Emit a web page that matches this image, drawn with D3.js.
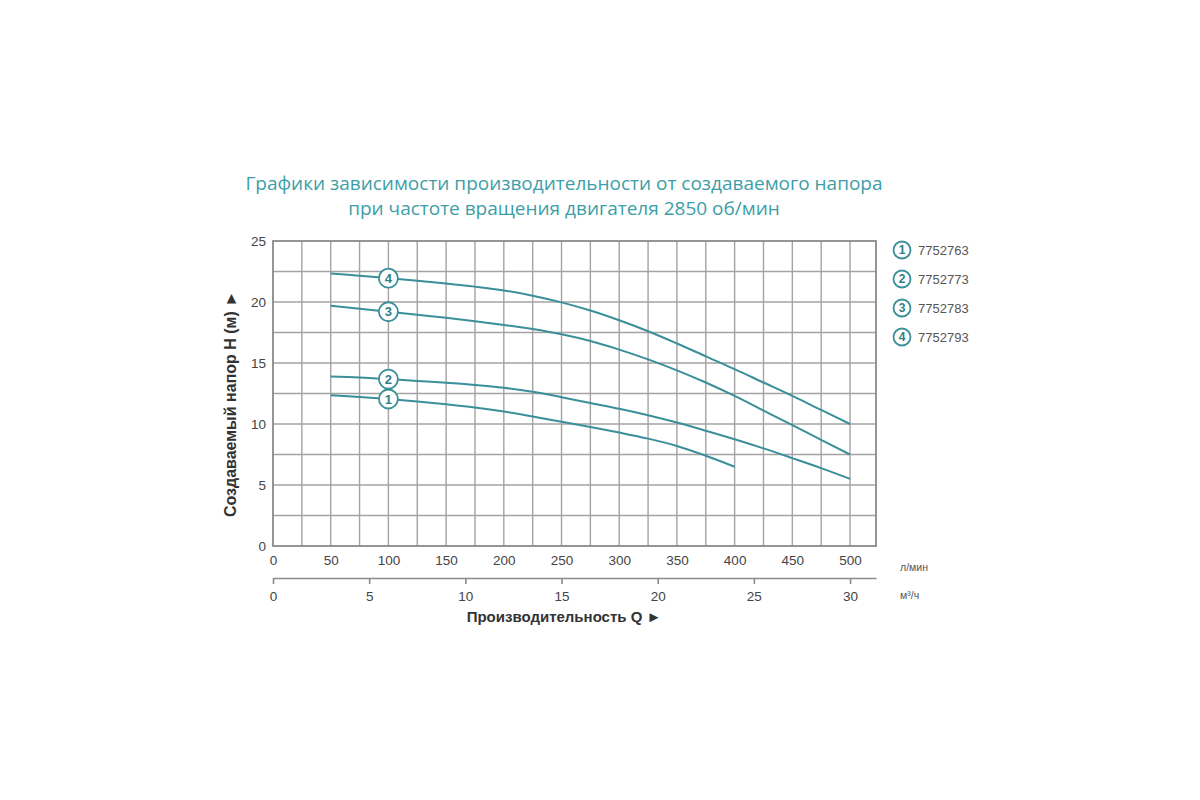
<!DOCTYPE html>
<html>
<head>
<meta charset="utf-8">
<script src="https://cdnjs.cloudflare.com/ajax/libs/d3/7.8.5/d3.min.js"></script>
<style>
  body { margin: 0; background: #fff; }
  svg { display: block; }
</style>
</head>
<body>
<script>
// flow, l/min
const flowLpm = [50, 75, 100, 125, 150, 175, 200, 225, 250, 275, 300, 325, 350, 375, 400, 425, 450, 475, 500];
// head, m
const head1 = [12.35, 12.22, 12.05, 11.85, 11.62, 11.35, 11.02, 10.62, 10.18, 9.76, 9.3, 8.8, 8.2, 7.4, 6.5];
const head2 = [13.9, 13.82, 13.68, 13.52, 13.38, 13.2, 12.97, 12.64, 12.2, 11.72, 11.25, 10.72, 10.12, 9.45, 8.75, 8.0, 7.2, 6.38, 5.5];
const head3 = [19.7, 19.45, 19.2, 18.95, 18.7, 18.42, 18.12, 17.78, 17.35, 16.8, 16.1, 15.3, 14.4, 13.4, 12.3, 11.1, 9.9, 8.7, 7.5];
const head4 = [22.33, 22.15, 21.95, 21.75, 21.52, 21.26, 20.95, 20.52, 19.97, 19.3, 18.5, 17.6, 16.6, 15.55, 14.5, 13.4, 12.3, 11.15, 10.0];
const seriesNames = ["1", "2", "3", "4"];
const models = ["7752763", "7752773", "7752783", "7752793"];
const lpmTicks = [0, 50, 100, 150, 200, 250, 300, 350, 400, 450, 500];
const m3hTicks = [0, 5, 10, 15, 20, 25, 30];
const headTicks = [0, 5, 10, 15, 20, 25];
const labelAt = 100; // l/min where the numbered circles sit

const teal = "#3a8f9a";
const gridCol = "#a3a3a3";

const svg = d3.select("body").append("svg")
    .attr("width", 1200)
    .attr("height", 800);

const x = d3.scaleLinear().domain([0, 522.5]).range([273, 876]);
const xm = d3.scaleLinear().domain([0, 522.5 * 0.06]).range([273, 876]);
const y = d3.scaleLinear().domain([0, 25]).range([546, 241]);

// title
svg.append("g")
    .selectAll("text")
    .data(["Графики зависимости производительности от создаваемого напора",
           "при частоте вращения двигателя 2850 об/мин"])
    .enter().append("text")
    .attr("x", 564)
    .attr("y", (d, i) => 190 + i * 25)
    .attr("text-anchor", "middle")
    .style("font-family", "'Open Sans', 'Noto Sans', sans-serif")
    .style("font-size", "19px")
    .style("fill", "#3d9ea8")
    .text(d => d);

// grid
const grid = svg.append("g");
grid.selectAll(".vl")
    .data(d3.range(25, 501, 25))
    .enter().append("line")
    .attr("x1", d => x(d)).attr("x2", d => x(d))
    .attr("y1", y(0)).attr("y2", y(25))
    .style("stroke", gridCol)
    .style("stroke-width", 1.4);
grid.selectAll(".hl")
    .data(d3.range(2.5, 24, 2.5))
    .enter().append("line")
    .attr("x1", x(0)).attr("x2", x(522.5))
    .attr("y1", d => y(d)).attr("y2", d => y(d))
    .style("stroke", gridCol)
    .style("stroke-width", 1.4);
grid.append("rect")
    .attr("x", x(0)).attr("y", y(25))
    .attr("width", x(522.5) - x(0))
    .attr("height", y(0) - y(25))
    .style("fill", "none")
    .style("stroke", "#8a8a8a")
    .style("stroke-width", 1.8);

// y axis
const yAxis = svg.append("g")
    .attr("transform", "translate(" + x(0) + ",0)")
    .call(d3.axisLeft(y).tickValues(headTicks).tickSize(0).tickPadding(7));
yAxis.select(".domain").remove();

// flow axis, l/min
const xAxis = svg.append("g")
    .attr("transform", "translate(0," + y(0) + ")")
    .call(d3.axisBottom(x).tickValues(lpmTicks).tickSize(0).tickPadding(9));
xAxis.select(".domain").remove();

// flow axis, m3/h
const xAxis2 = svg.append("g")
    .attr("transform", "translate(0,578)")
    .call(d3.axisBottom(xm).tickValues(m3hTicks).tickSize(6).tickSizeOuter(0).tickPadding(7));
xAxis2.selectAll(".domain, .tick line")
    .style("stroke", "#8a8a8a")
    .style("stroke-width", 1.6);

svg.selectAll(".tick text")
    .style("font-family", "'Liberation Sans', Arial, sans-serif")
    .style("font-size", "13.5px")
    .style("fill", "#444");

// unit labels
svg.append("text")
    .attr("x", 900).attr("y", 571)
    .style("font-family", "'Liberation Sans', Arial, sans-serif")
    .style("font-size", "10.5px")
    .style("fill", "#555")
    .text("л/мин");
svg.append("text")
    .attr("x", 900).attr("y", 599)
    .style("font-family", "'Liberation Sans', Arial, sans-serif")
    .style("font-size", "10.5px")
    .style("fill", "#555")
    .text("м³/ч");

// axis titles
svg.append("text")
    .attr("x", 564).attr("y", 622)
    .attr("text-anchor", "middle")
    .style("font-family", "'Liberation Sans', Arial, sans-serif")
    .style("font-size", "15px")
    .style("font-weight", "bold")
    .style("fill", "#333")
    .text("Производительность Q ►");
svg.append("text")
    .attr("transform", "translate(236,404) rotate(-90)")
    .attr("text-anchor", "middle")
    .style("font-family", "'Liberation Sans', Arial, sans-serif")
    .style("font-size", "16px")
    .style("font-weight", "bold")
    .style("fill", "#333")
    .text("Создаваемый напор H (м) ►");

// curves
const heads = [head1, head2, head3, head4];
const line = d3.line()
    .x(d => x(d[0]))
    .y(d => y(d[1]))
    .curve(d3.curveCatmullRom.alpha(0.5));

const curves = svg.append("g");
heads.forEach((h, i) => {
    const pts = h.map((v, j) => [flowLpm[j], v]);
    curves.append("path")
        .datum(pts)
        .attr("d", line)
        .style("fill", "none")
        .style("stroke", teal)
        .style("stroke-width", 2);
    const hv = h[flowLpm.indexOf(labelAt)];
    const g = curves.append("g")
        .attr("transform", "translate(" + x(labelAt) + "," + y(hv) + ")");
    g.append("circle")
        .attr("r", 9.5)
        .style("fill", "#fff")
        .style("stroke", teal)
        .style("stroke-width", 1.8);
    g.append("text")
        .attr("dy", "0.36em")
        .attr("text-anchor", "middle")
        .style("font-family", "'Liberation Sans', Arial, sans-serif")
        .style("font-size", "13px")
        .style("font-weight", "bold")
        .style("fill", "#2f7f89")
        .text(seriesNames[i]);
});

// legend
const legend = svg.append("g")
    .selectAll("g")
    .data(models)
    .enter().append("g")
    .attr("transform", (d, i) => "translate(902," + (250 + i * 29) + ")");
legend.append("circle")
    .attr("r", 8.5)
    .style("fill", "#fff")
    .style("stroke", teal)
    .style("stroke-width", 1.8);
legend.append("text")
    .attr("dy", "0.36em")
    .attr("text-anchor", "middle")
    .style("font-family", "'Liberation Sans', Arial, sans-serif")
    .style("font-size", "12px")
    .style("font-weight", "bold")
    .style("fill", "#2f7f89")
    .text((d, i) => seriesNames[i]);
legend.append("text")
    .attr("x", 16)
    .attr("dy", "0.36em")
    .style("font-family", "'Liberation Sans', Arial, sans-serif")
    .style("font-size", "13px")
    .style("fill", "#555")
    .text(d => d);
</script>
</body>
</html>
